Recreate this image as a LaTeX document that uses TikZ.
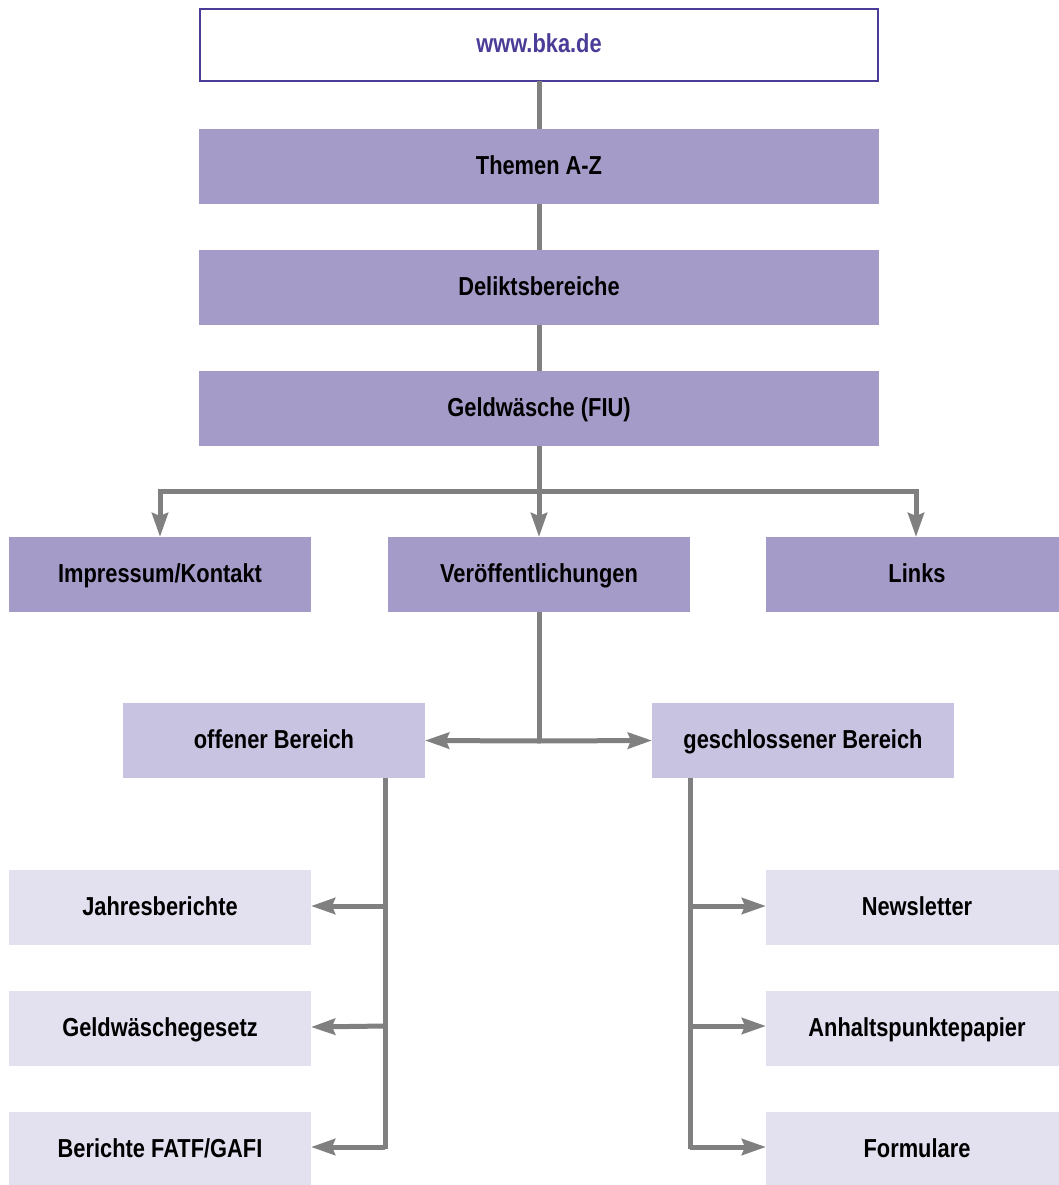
\documentclass[tikz,border=0pt]{standalone}
\usepackage{fontspec}
\setmainfont{Liberation Sans}[FakeStretch=0.84]
\usetikzlibrary{arrows.meta}
\definecolor{dark}{HTML}{A49BC8}
\definecolor{mid}{HTML}{C8C3E1}
\definecolor{light}{HTML}{E3E1F0}
\definecolor{ink}{HTML}{4A3C97}
\definecolor{conncol}{HTML}{808080}
\begin{document}
\begin{tikzpicture}[x=1pt,y=-1pt,
  connline/.style={draw=conncol, line width=5pt},
  arr/.style={connline, -{Stealth[length=24pt,width=16pt,inset=3pt]}},
  lbl/.style={inner sep=0pt, anchor=base, font=\fontsize{26}{30}\selectfont\bfseries, text=black}]
\useasboundingbox (0,0) rectangle (1059,1185);
\newcommand{\bx}[7]{% name, x1,y1,x2,y2, fill, text
  \fill[#6] (#2,#3) rectangle (#4,#5);
  \node[lbl] (#1) at ({(#2+#4)/2},{(#3+#5)/2+8}) {#7};
  \coordinate (#1-n) at ({(#2+#4)/2},#3);
  \coordinate (#1-s) at ({(#2+#4)/2},#5);
  \coordinate (#1-w) at (#2,{(#3+#5)/2});
  \coordinate (#1-e) at (#4,{(#3+#5)/2});
}
\draw[ink, line width=2pt, fill=white] (200,9) rectangle (878,81);
\node[lbl, text=ink] (www) at (539,53) {www.bka.de};
\coordinate (www-s) at (539,81);
\bx{themen}{199}{129}{879}{204}{dark}{Themen A-Z}
\bx{delikt}{199}{250}{879}{325}{dark}{Deliktsbereiche}
\bx{geld}{199}{371}{879}{446}{dark}{Geldwäsche (FIU)}
\bx{imp}{9}{537}{311}{612}{dark}{Impressum/Kontakt}
\bx{ver}{388}{537}{690}{612}{dark}{Veröffentlichungen}
\bx{links}{766}{537}{1068}{612}{dark}{Links}
\bx{off}{123}{703}{425}{778}{mid}{offener Bereich}
\bx{ges}{652}{703}{954}{778}{mid}{geschlossener Bereich}
\bx{jahr}{9}{870}{311}{945}{light}{Jahresberichte}
\bx{gwg}{9}{991}{311}{1066}{light}{Geldwäschegesetz}
\bx{fatf}{9}{1112}{311}{1187}{light}{Berichte FATF/GAFI}
\bx{news}{766}{870}{1068}{945}{light}{Newsletter}
\bx{anh}{766}{991}{1068}{1066}{light}{Anhaltspunktepapier}
\bx{form}{766}{1112}{1068}{1187}{light}{Formulare}
% connectors
\draw[connline] (www-s) -- (themen-n);
\draw[connline] (themen-s) -- (delikt-n);
\draw[connline] (delikt-s) -- (geld-n);
\coordinate (bar) at (539,491);
\coordinate (impin) at (160,537);
\coordinate (linksin) at (916,537);
\draw[connline] (geld-s) -- (bar);
\draw[arr] (bar) -- (ver-n);
\draw[arr] (bar) -| (impin);
\draw[arr] (bar) -| (linksin);
\coordinate (split) at (539,741);
\draw[connline] (ver-s) -- (split);
\draw[arr] (split) -- (off-e);
\draw[arr] (split) -- (ges-w);
% left branch
\coordinate (lt) at (385,778);
\coordinate (lb) at (385,1149);
\draw[connline] (lt) -- (lb);
\coordinate (l1) at (385,906);
\coordinate (l2) at (385,1026);
\coordinate (l3) at (385,1147);
\coordinate (jin) at (311,906);
\coordinate (gin) at (311,1027);
\coordinate (fin) at (311,1147);
\draw[arr] (l1) -- (jin);
\draw[arr] (l2) -- (gin);
\draw[arr] (l3) -- (fin);
% right branch
\coordinate (rt) at (690,778);
\coordinate (rb) at (690,1149);
\draw[connline] (rt) -- (rb);
\coordinate (r1) at (690,906);
\coordinate (r2) at (690,1026);
\coordinate (r3) at (690,1147);
\coordinate (nin) at (766,906);
\coordinate (ain) at (766,1026);
\coordinate (foin) at (766,1147);
\draw[arr] (r1) -- (nin);
\draw[arr] (r2) -- (ain);
\draw[arr] (r3) -- (foin);
\end{tikzpicture}
\end{document}
